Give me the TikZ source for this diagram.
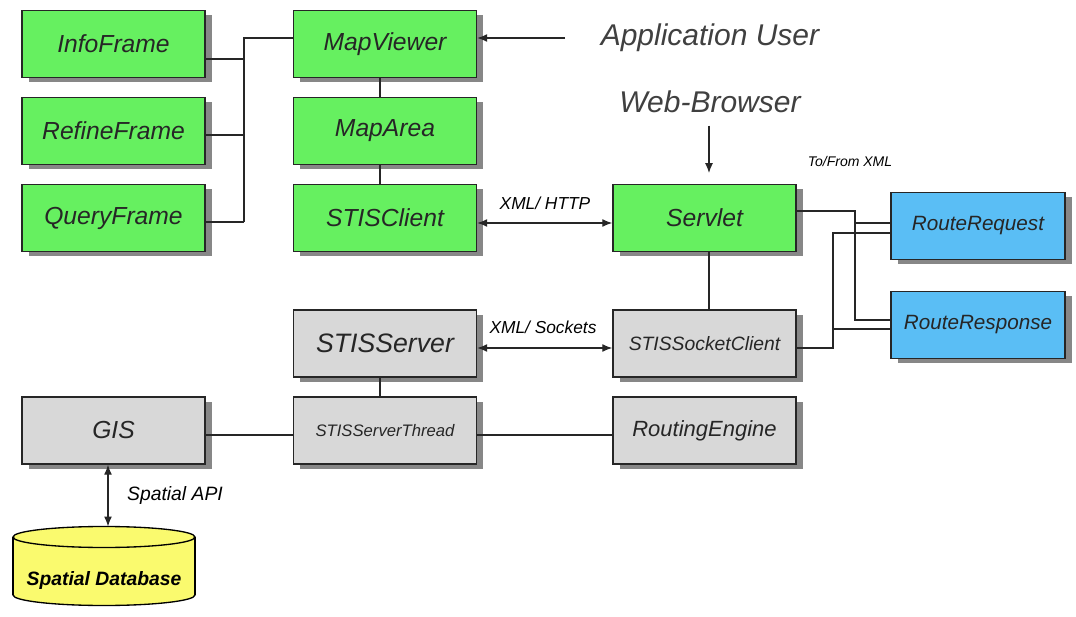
\documentclass[tikz,border=0pt]{standalone}
\usepackage{fontspec}
\setmainfont{Liberation Sans}
\usetikzlibrary{arrows.meta,shadows}

\definecolor{appgreen}{RGB}{102,240,96}
\definecolor{srvgray}{RGB}{216,216,216}
\definecolor{msgblue}{RGB}{90,190,245}
\definecolor{dbyellow}{RGB}{250,250,110}
\definecolor{shadowgray}{RGB}{135,135,135}

\newcommand{\fs}[1]{\itshape\fontsize{#1}{#1}\selectfont}

\begin{document}
\begin{tikzpicture}[x=0.75pt,y=-0.75pt,
    box/.style={draw=black!85,line width=1.1pt,minimum width=137.25pt,
        minimum height=50.25pt,inner sep=0pt,font=\fs{18.5},text=black!85,
        drop shadow={shadow xshift=5pt,shadow yshift=-3.5pt,fill=shadowgray,opacity=1}},
    appbox/.style={box,fill=appgreen},
    srvbox/.style={box,fill=srvgray},
    msgbox/.style={box,fill=msgblue,minimum width=130.5pt,font=\fs{15.5}},
    link/.style={line width=1pt,black!85},
    tip/.style={link,-{Latex[length=7.5pt,width=6pt]}},
    dbltip/.style={link,{Latex[length=7.5pt,width=6pt]}-{Latex[length=7.5pt,width=6pt]}},
    bigtext/.style={font=\fs{22.5},text=black!75},
    smalltext/.style={font=\fs{13},inner sep=1pt}]
    \useasboundingbox (0,0) rectangle (1076,617);

    % client side
    \node[appbox] (info)    at (113.5,44)  {InfoFrame};
    \node[appbox] (refine)  at (113.5,131) {RefineFrame};
    \node[appbox] (query)   at (113.5,218) {QueryFrame};
    \node[appbox] (viewer)  at (385,44)    {MapViewer};
    \node[appbox] (maparea) at (385,131)   {MapArea};
    \node[appbox] (client)  at (385,218)   {STISClient};
    \node[appbox] (servlet) at (704.5,218) {Servlet};

    % server side
    \node[srvbox,font=\fs{20}]   (server)     at (385,343.5)   {STISServer};
    \node[srvbox,font=\fs{14.5}] (sockclient) at (704.5,343.5) {STISSocketClient};
    \node[srvbox,font=\fs{12.5}] (thread)     at (385,430.5)   {STISServerThread};
    \node[srvbox]                (gis)        at (113.5,430.5) {GIS};
    \node[srvbox,font=\fs{16.5}] (routing)    at (704.5,430.5) {RoutingEngine};

    \node[msgbox] (request)  at (978,226) {RouteRequest};
    \node[msgbox] (response) at (978,325) {RouteResponse};

    % texts
    \node[bigtext] (user)    at (710,38)  {Application User};
    \node[bigtext] (browser) at (710,102) {Web-Browser};
    \node[smalltext] (httplbl) at (545,203) {XML/ HTTP};
    \node[smalltext] (socklbl) at (543,327) {XML/ Sockets};
    \node[smalltext,font=\fs{10.5}] (xmllbl) at (850,161) {To/From XML};
    \node[smalltext,font=\fs{14.5}] (apilbl) at (175,495) {Spatial API};

    % database cylinder
    \filldraw[fill=dbyellow,line width=1pt] (104,595) ellipse [x radius=91,y radius=10.5];
    \fill[dbyellow] (13,537) rectangle (195,595);
    \draw[line width=1pt] (13,537) -- (13,595) (195,537) -- (195,595);
    \filldraw[fill=dbyellow,line width=1pt] (104,537) ellipse [x radius=91,y radius=10.5];
    \node[font=\bfseries\fs{14.5}] (spdb) at (104,580) {Spatial Database};
    \coordinate (dbtop) at (108,526.5);

    % connectors
    \coordinate (fork) at (244,38);
    \draw[link] (viewer.west |- fork) -- (fork) -- (fork |- 0,222);
    \draw[link] (info.east |- 0,59) -- (fork |- 0,59);
    \draw[link] (refine.east |- 0,135) -- (fork |- 0,135);
    \draw[link] (query.east |- 0,222) -- (fork |- 0,222);
    \draw[link] (viewer.south -| 380,0) -- (maparea.north -| 380,0);
    \draw[link] (maparea.south -| 380,0) -- (client.north -| 380,0);

    \coordinate (userend) at (565,38);
    \draw[tip] (userend) -- (viewer.east |- userend);
    \draw[tip,shorten <=6pt,shorten >=8pt] (browser.south -| 709,0) -- (servlet.north -| 709,0);
    \draw[dbltip] (client.east |- 0,223) -- (servlet.west |- 0,223);
    \draw[link] (servlet.south -| 709,0) -- (sockclient.north -| 709,0);

    \coordinate (busa) at (855,223);
    \coordinate (busb) at (833,329);
    \draw[link] (servlet.east |- 0,211) -| (busa |- 0,320) -- (response.west |- 0,320);
    \draw[link] (busa) -- (request.west |- busa);
    \draw[link] (sockclient.east |- 0,348) -| (busb |- 0,233) -- (request.west |- 0,233);
    \draw[link] (busb) -- (response.west |- busb);

    \draw[dbltip] (server.east |- 0,348) -- (sockclient.west |- 0,348);
    \draw[link] (server.south -| 380,0) -- (thread.north -| 380,0);
    \draw[link] (gis.east |- 0,435) -- (thread.west |- 0,435);
    \draw[link] (thread.east |- 0,435) -- (routing.west |- 0,435);
    \draw[dbltip] (gis.south -| dbtop) -- (dbtop);
\end{tikzpicture}
\end{document}
